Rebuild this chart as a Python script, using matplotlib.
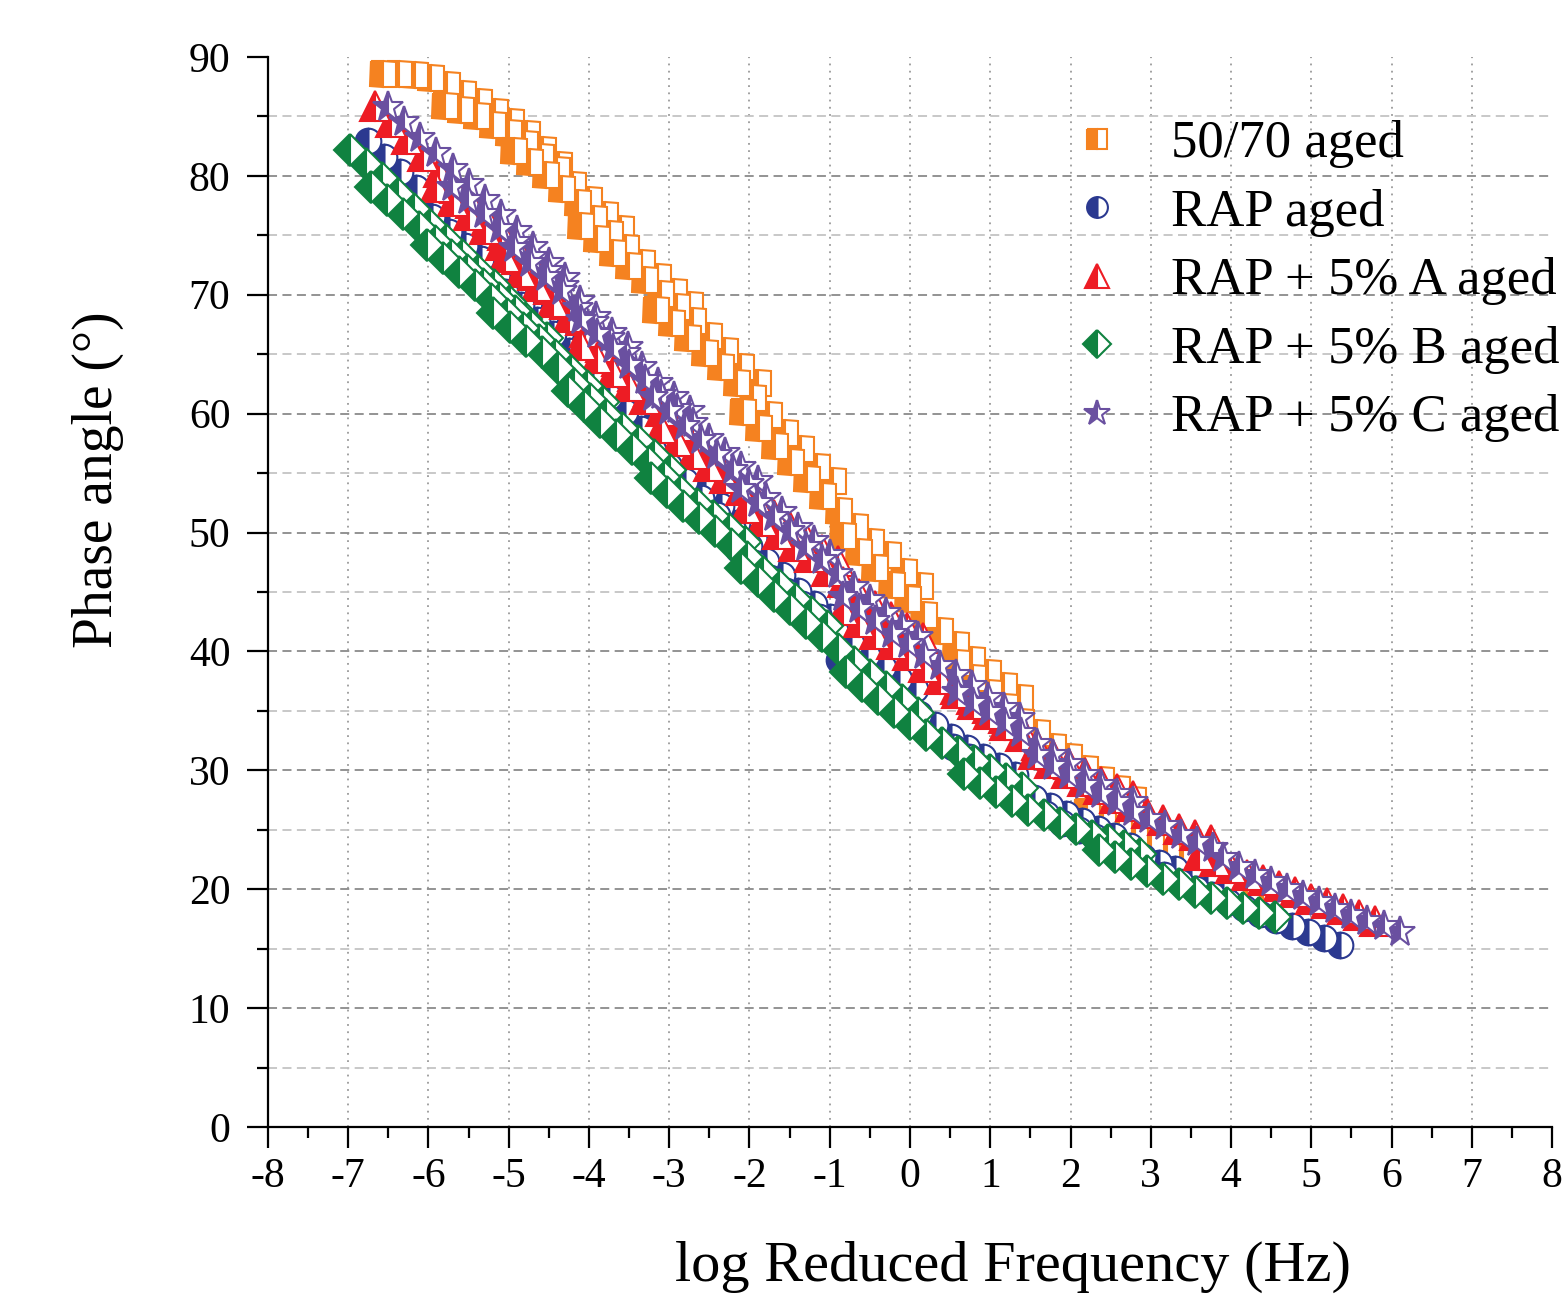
import matplotlib
matplotlib.use("Agg")
import matplotlib.pyplot as plt
from matplotlib.lines import Line2D
from matplotlib.ticker import MultipleLocator

plt.rcParams['font.family'] = 'serif'
plt.rcParams['font.serif'] = ['Liberation Serif', 'DejaVu Serif']
plt.rcParams['axes.unicode_minus'] = False

# frequency sweep (log Hz) used at every test temperature
log_freq = [-1.1, -0.9, -0.7, -0.5, -0.3, -0.1, 0.1, 0.3, 0.5, 0.7, 0.9, 1.1]

# log shift factor of each temperature and the phase angles
shift_5070 = [-5.47, -4.70, -3.84, -3.00, -2.06, -0.98, 0.27, 1.68, 3.30]
phase_5070 = [
    [88.6, 88.6, 88.5, 88.2, 87.6, 86.9, 86.2, 85.4, 84.5, 83.5, 82.2, 80.9],
    [85.9, 85.5, 85.0, 84.3, 83.6, 82.7, 81.6, 80.5, 79.2, 78.0, 76.7, 75.5],
    [82.1, 81.2, 80.1, 78.9, 77.7, 76.4, 75.1, 73.9, 72.7, 71.5, 70.2, 69.1],
    [75.8, 74.7, 73.5, 72.4, 71.2, 70.1, 69.0, 67.8, 66.5, 65.3, 63.9, 62.6],
    [68.7, 67.6, 66.4, 65.1, 63.9, 62.6, 61.3, 59.9, 58.4, 57.0, 55.5, 54.3],
    [60.1, 58.8, 57.3, 55.9, 54.5, 53.1, 51.8, 50.5, 49.2, 48.1, 46.7, 45.5],
    [49.7, 48.4, 47.0, 45.6, 44.4, 43.1, 41.7, 40.5, 39.3, 38.2, 37.1, 36.1],
    [39.0, 37.8, 36.5, 35.3, 34.1, 33.1, 32.0, 31.1, 30.1, 29.2, 28.4, 27.5],
    [26.5, 25.8, 25.1, 24.4, 23.7, 23.0, 22.3, 21.5, 20.8, 20.1, 19.4, 18.7],
]

shift_rap = [-5.65, -4.85, -3.95, -3.05, -2.10, -1.04, 0.21, 1.64, 2.80, 4.26]
phase_rap = [
    [82.9, 81.6, 80.3, 79.0, 77.6, 76.3, 75.0, 73.7, 72.4, 71.1, 69.8, 68.5],
    [76.5, 75.3, 74.1, 73.0, 71.7, 70.5, 69.3, 68.1, 66.9, 65.5, 64.3, 63.0],
    [70.2, 69.1, 67.9, 66.7, 65.3, 64.1, 62.9, 61.6, 60.3, 59.0, 57.7, 56.3],
    [63.9, 62.7, 61.4, 60.1, 58.7, 57.5, 56.2, 54.9, 53.6, 52.2, 50.8, 49.5],
    [56.9, 55.6, 54.3, 52.9, 51.5, 50.2, 48.9, 47.6, 46.4, 45.1, 44.0, 42.9],
    [48.6, 47.4, 46.2, 45.1, 44.0, 42.9, 41.8, 40.7, 39.7, 38.7, 37.7, 36.8],
    [39.3, 38.2, 37.2, 36.4, 35.6, 34.7, 33.8, 32.8, 31.9, 31.1, 30.4, 29.6],
    [32.0, 31.1, 30.1, 29.3, 28.5, 27.7, 27.0, 26.3, 25.7, 25.1, 24.5, 23.6],
    [26.3, 25.6, 25.0, 24.4, 23.7, 23.2, 22.7, 22.2, 21.7, 21.2, 20.7, 20.2],
    [21.2, 20.6, 20.0, 19.5, 18.9, 18.4, 17.9, 17.4, 16.9, 16.4, 15.9, 15.3],
]

shift_a = [-5.57, -4.80, -3.95, -3.00, -2.00, -0.94, 0.27, 1.68, 2.65, 4.70]
phase_a = [
    [85.9, 84.5, 83.1, 81.7, 80.3, 79.0, 77.7, 76.3, 75.0, 73.7, 72.3, 71.0],
    [79.1, 77.9, 76.7, 75.5, 74.2, 73.0, 71.7, 70.5, 69.2, 67.9, 66.7, 65.4],
    [73.2, 71.9, 70.7, 69.4, 68.1, 66.9, 65.6, 64.4, 63.2, 61.9, 60.7, 59.6],
    [65.8, 64.7, 63.5, 62.3, 61.2, 60.2, 59.0, 58.0, 57.0, 56.0, 54.9, 53.9],
    [58.8, 57.7, 56.6, 55.6, 54.6, 53.6, 52.5, 51.5, 50.5, 49.5, 48.5, 47.6],
    [52.1, 51.0, 49.9, 48.9, 47.9, 46.8, 45.8, 44.8, 43.8, 42.9, 42.0, 41.1],
    [43.5, 42.5, 41.5, 40.6, 39.7, 38.7, 37.7, 36.8, 36.0, 35.2, 34.4, 33.8],
    [36.5, 35.6, 34.7, 33.8, 32.9, 32.1, 31.3, 30.5, 29.8, 29.0, 28.4, 27.8],
    [31.4, 30.6, 29.8, 29.1, 28.4, 27.7, 27.0, 26.4, 25.8, 25.1, 24.6, 24.1],
    [22.9, 22.4, 21.8, 21.2, 20.8, 20.3, 19.8, 19.2, 18.8, 18.3, 17.8, 17.3],
]

shift_b = [-5.88, -5.62, -4.92, -4.09, -3.16, -2.13, -1.00, 0.30, 1.77, 3.45]
phase_b = [
    [82.2, 81.0, 79.8, 78.5, 77.2, 75.9, 74.6, 73.3, 72.0, 70.8, 69.4, 68.0],
    [79.1, 78.0, 76.8, 75.7, 74.5, 73.3, 72.1, 70.9, 69.7, 68.6, 67.4, 66.4],
    [74.2, 73.1, 71.9, 70.8, 69.6, 68.4, 67.2, 66.2, 64.9, 63.6, 62.3, 61.0],
    [68.5, 67.3, 66.1, 65.2, 63.8, 62.5, 61.2, 59.9, 58.8, 57.7, 56.5, 55.3],
    [61.9, 60.6, 59.3, 58.2, 57.0, 55.9, 54.7, 53.5, 52.4, 51.4, 50.3, 49.2],
    [54.6, 53.4, 52.2, 51.2, 50.1, 49.0, 47.9, 46.7, 45.6, 44.4, 43.3, 42.1],
    [47.0, 45.9, 44.7, 43.6, 42.4, 41.3, 40.2, 39.1, 38.0, 37.0, 35.9, 34.8],
    [38.3, 37.1, 36.0, 34.9, 33.9, 33.0, 32.3, 31.5, 30.8, 30.0, 29.3, 28.5],
    [29.7, 28.9, 28.2, 27.4, 26.7, 26.2, 25.6, 25.1, 24.5, 24.1, 23.6, 23.0],
    [23.3, 22.7, 22.1, 21.5, 20.9, 20.4, 19.8, 19.3, 18.8, 18.4, 18.0, 17.7],
]

shift_c = [-5.40, -4.61, -3.84, -3.00, -2.10, -1.00, 0.27, 1.68, 2.68, 5.00]
phase_c = [
    [85.8, 84.5, 83.2, 81.9, 80.6, 79.3, 78.0, 76.7, 75.4, 74.0, 72.7, 71.4],
    [79.1, 78.0, 76.8, 75.5, 74.4, 73.2, 72.0, 70.7, 69.5, 68.1, 66.8, 65.6],
    [73.9, 72.7, 71.5, 70.3, 68.9, 67.7, 66.4, 65.1, 63.9, 62.6, 61.4, 60.2],
    [67.9, 66.7, 65.4, 64.1, 62.8, 61.6, 60.4, 59.2, 57.9, 56.7, 55.5, 54.3],
    [61.4, 60.2, 59.0, 57.8, 56.5, 55.3, 54.1, 52.9, 51.7, 50.4, 49.3, 48.1],
    [53.7, 52.5, 51.3, 50.1, 48.8, 47.7, 46.5, 45.4, 44.3, 43.2, 42.1, 41.2],
    [44.6, 43.6, 42.6, 41.5, 40.6, 39.7, 38.8, 38.0, 37.1, 36.1, 35.2, 34.4],
    [36.6, 35.7, 34.9, 34.0, 33.1, 32.2, 31.3, 30.5, 29.6, 28.8, 28.0, 27.3],
    [31.3, 30.4, 29.6, 28.8, 28.0, 27.3, 26.5, 25.9, 25.3, 24.6, 24.0, 23.5],
    [22.6, 21.9, 21.2, 20.6, 20.0, 19.4, 18.9, 18.3, 17.8, 17.3, 16.9, 16.4],
]

# label, shifts, phases, marker, plot size, legend size, colour
series = [
    ("50/70 aged", shift_5070, phase_5070, "s", 18, 14.5, "#F58220"),
    ("RAP aged", shift_rap, phase_rap, "o", 18.5, 15, "#2B3990"),
    ("RAP + 5% A aged", shift_a, phase_a, "^", 21, 17, "#ED1C24"),
    ("RAP + 5% B aged", shift_b, phase_b, "D", 16.5, 14, "#108240"),
    ("RAP + 5% C aged", shift_c, phase_c, "*", 23, 19, "#6A50A0"),
]

fig = plt.figure(figsize=(15.66, 13.12), dpi=100)
ax = fig.add_axes([0.1711, 0.1410, 0.82, 0.8156])

# Origin style grid
for v in range(-7, 8):
    ax.axvline(v, color="#9a9a9a", ls=(0, (1, 3)), lw=1.3, zorder=0)
for v in range(10, 90, 10):
    ax.axhline(v, color="#8a8a8a", ls=(0, (5, 3)), lw=1.3, zorder=0)
for v in range(5, 90, 10):
    ax.axhline(v, color="#c4c4c4", ls=(0, (5, 3)), lw=1.3, zorder=0)

handles = []
for label, shifts, phases, mk, ms, ms_leg, col in series:
    style = dict(ls="none", marker=mk, mec=col, mfc=col, markerfacecoloralt="white",
                 fillstyle="left", mew=1.5)
    for sh, ys in zip(shifts, phases):
        xs = [sh + f for f in log_freq]
        ax.plot(xs, ys, ms=ms, **style)
    handles.append(Line2D([], [], ms=ms_leg, label=label, **style))

ax.set_xlim(-8, 8)
ax.set_ylim(0, 90)
ax.set_xticks(range(-8, 9))
ax.set_yticks(range(0, 91, 10))
ax.xaxis.set_minor_locator(MultipleLocator(0.5))
ax.yaxis.set_minor_locator(MultipleLocator(5))
ax.tick_params(which="major", direction="out", length=15, width=1.6, labelsize=30)
ax.tick_params(axis="y", which="major", pad=12)
ax.tick_params(axis="x", which="major", pad=7)
ax.tick_params(which="minor", direction="out", length=8, width=1.6)
for s in ["top", "right"]:
    ax.spines[s].set_visible(False)
for s in ["left", "bottom"]:
    ax.spines[s].set_linewidth(1.6)

ax.set_xlabel("log Reduced Frequency (Hz)", fontsize=42)
ax.set_ylabel("Phase angle (°)", fontsize=40)
ax.xaxis.set_label_coords(0.58, -0.106)
ax.yaxis.set_label_coords(-0.112, 0.605)

fig.legend(handles=handles, loc="upper left", bbox_to_anchor=(1071 / 1566, 1 - 120 / 1312),
           frameon=False, fontsize=38, handlelength=1.0, handletextpad=0.9,
           labelspacing=0.39, borderpad=0, borderaxespad=0, numpoints=1)

fig.savefig("out.png", dpi=100)
